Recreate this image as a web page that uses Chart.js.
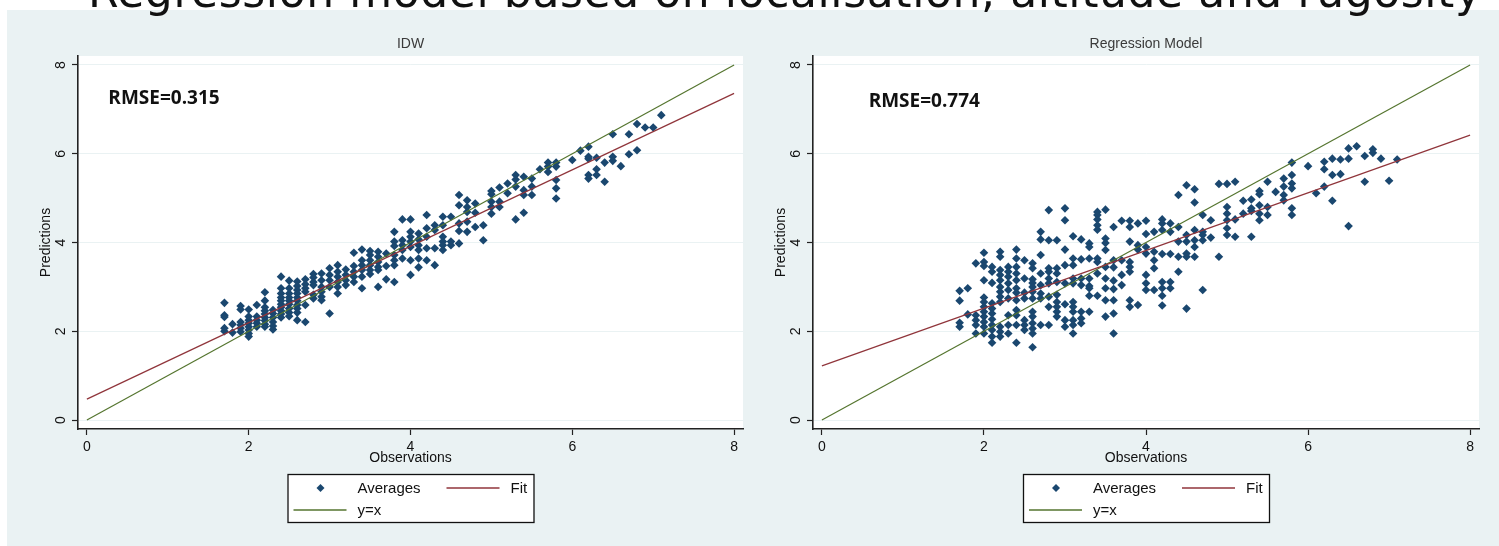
<!DOCTYPE html>
<html><head><meta charset="utf-8">
<script src="https://cdn.jsdelivr.net/npm/chart.js@4.4.1/dist/chart.umd.min.js"></script>
<style>
html,body{margin:0;padding:0;background:#fff;width:1499px;height:546px;overflow:hidden;position:relative;}
#bg{position:absolute;left:7px;top:10px;right:0;bottom:0;background:#eaf2f3;}
#headline{position:absolute;left:88px;top:-31px;font-family:"DejaVu Sans";font-size:44px;line-height:45px;letter-spacing:0.6px;white-space:nowrap;color:#111;z-index:5;}
canvas{position:absolute;top:0;}
#c1{left:0;}
#c2{left:735px;}
</style></head><body>
<div id="bg"></div>
<div id="headline">Regression model based on localisation, altitude and rugosity</div>
<canvas id="c1" width="749" height="546"></canvas>
<canvas id="c2" width="764" height="546"></canvas>
<script>
// ---- tick labels ----
const tickValues = [0, 2, 4, 6, 8];

// ---- IDW panel: observation columns and predictions in each column ----
const idwObs = [1.7,1.8,1.9,2.0,2.1,2.2,2.3,2.4,2.5,2.6,2.7,2.8,2.9,3.0,3.1,3.2,3.3,3.4,3.5,3.6,3.7,3.8,3.9,4.0,4.1,4.2,4.3,4.4,4.5,4.6,4.7,4.8,4.9,5.0,5.1,5.2,5.3,5.4,5.5,5.6,5.7,5.8,6.0,6.1,6.2,6.3,6.4,6.5,6.6,6.7,6.8,6.9,7.0,7.1];
const idwPred = [
  [2.64,2.36,2.32,2.07,2.00],
  [2.16,1.97],
  [2.57,2.49,2.21,2.14,2.07,1.99],
  [2.49,2.33,2.25,2.18,2.10,2.03,1.95,1.88],
  [2.59,2.33,2.25,2.18,2.10],
  [2.88,2.69,2.54,2.46,2.39,2.31,2.24,2.16,2.10],
  [2.48,2.40,2.31,2.21,2.12,2.04],
  [3.23,2.97,2.85,2.76,2.69,2.61,2.54,2.46,2.39,2.31],
  [3.14,2.97,2.85,2.76,2.69,2.61,2.51,2.42,2.34],
  [3.12,3.02,2.93,2.85,2.76,2.69,2.59,2.51,2.42,2.25],
  [3.17,3.06,2.97,2.89,2.59,2.21],
  [3.29,3.21,3.11,3.04,2.82,2.74],
  [3.30,3.15,3.00,2.89,2.78,2.70],
  [3.42,3.27,3.15,3.00,2.40],
  [3.49,3.34,3.23,3.11,3.00,2.85],
  [3.39,3.27,3.15,3.04],
  [3.77,3.47,3.34,3.23,3.11],
  [3.84,3.60,3.49,3.38,3.23,2.97],
  [3.81,3.72,3.60,3.49,3.38,3.29],
  [3.79,3.68,3.56,3.45,3.38,3.00],
  [3.75,3.47,3.17],
  [4.24,4.02,3.92,3.72,3.60,3.49,3.11],
  [4.52,4.05,3.94,3.83,3.64],
  [4.52,4.24,4.13,4.02,3.90,3.60,3.27],
  [4.20,4.07,3.94,3.83,3.64,3.44],
  [4.62,4.32,4.13,3.87,3.60],
  [4.39,4.28,3.87,3.49],
  [4.58,4.39,4.13,4.02,3.94,3.83],
  [4.58,4.02,3.94],
  [5.07,4.84,4.43,4.26,3.98],
  [4.95,4.80,4.69,4.47,4.24],
  [4.88,4.67,4.35],
  [4.39,4.05],
  [5.16,5.09,4.92,4.80,4.65],
  [5.24,4.92,4.80],
  [5.33,5.11],
  [5.52,5.42,5.26,4.52],
  [5.48,5.18,5.07,4.67],
  [5.44,5.26,5.07],
  [5.65],
  [5.80,5.71,5.59],
  [5.80,5.71,5.41,5.22,4.99],
  [5.86],
  [6.07],
  [6.16,5.93,5.89,5.52,5.44],
  [5.91,5.65,5.52],
  [5.80,5.37],
  [6.44,5.93,5.84],
  [5.72],
  [6.44,5.99],
  [6.67,6.08],
  [6.59],
  [6.59],
  [6.87]
];

// ---- Regression Model panel ----
const regObs = [1.7,1.8,1.9,2.0,2.1,2.2,2.3,2.4,2.5,2.6,2.7,2.8,2.9,3.0,3.1,3.2,3.3,3.4,3.5,3.6,3.7,3.8,3.9,4.0,4.1,4.2,4.3,4.4,4.5,4.6,4.7,4.8,4.9,5.0,5.1,5.2,5.3,5.4,5.5,5.6,5.7,5.8,6.0,6.1,6.2,6.3,6.4,6.5,6.6,6.7,6.8,6.9,7.0,7.1];
const regPred = [
  [2.91,2.69,2.19,2.10],
  [2.97,2.38],
  [3.53,2.36,2.25,2.14,1.95],
  [3.77,3.56,3.47,3.15,2.76,2.66,2.55,2.44,2.33,2.21,2.10,1.95],
  [3.45,3.34,3.09,2.63,2.51,2.40,2.27,2.14,2.03,1.88,1.74],
  [3.79,3.68,3.38,3.27,3.15,3.00,2.89,2.78,2.66,2.10,1.99,1.88],
  [3.45,3.34,3.23,3.08,2.93,2.74,2.36,2.14,1.95],
  [3.84,3.64,3.45,3.30,3.15,2.97,2.87,2.70,2.48,2.36,2.14,1.74],
  [3.60,3.19,2.87,2.74,2.25,2.14,2.03],
  [3.53,3.42,3.17,3.09,3.00,2.89,2.74,2.44,2.33,2.18,2.06,1.95,1.64],
  [4.24,4.07,3.72,3.30,3.04,2.85,2.74,2.14],
  [4.73,4.05,3.42,3.34,3.19,3.08,2.78,2.55,2.14],
  [4.05,3.42,3.30,3.11,2.82,2.66,2.55,2.44,2.33],
  [4.77,4.50,3.84,3.49,3.08,2.61,2.25,2.10],
  [4.14,3.64,3.49,3.19,3.08,2.66,2.55,2.44,2.25,2.14,1.95],
  [4.07,3.62,3.19,3.04,2.44,2.29,2.18],
  [3.98,3.90,3.64,3.19,3.02,2.97,2.80,2.44],
  [4.69,4.62,4.52,4.39,4.29,3.64,3.56,3.30,2.80],
  [4.74,4.09,3.99,3.83,3.45,3.19,2.97,2.70,2.33],
  [4.35,3.60,3.44,3.14,2.95,2.70,2.40,1.95],
  [4.49,3.60,3.27,3.04],
  [4.49,4.35,4.02,3.56,3.45,3.34,2.70,2.55],
  [4.43,3.94,3.84,2.59],
  [4.49,4.19,3.90,3.75,3.27,3.08,2.93],
  [4.24,3.79,3.60,3.42,2.93],
  [4.52,4.43,4.28,3.74,3.11,2.97,2.80,2.58],
  [4.43,4.24,3.74,3.11,2.97],
  [5.07,4.35,4.02,3.68,3.34],
  [5.29,4.17,4.02,3.75,3.68,2.51],
  [5.20,4.90,4.28,4.05,3.90,3.68],
  [4.62,4.24,4.17,4.05,2.93],
  [4.50,4.11],
  [5.32,3.68],
  [5.32,4.80,4.65,4.50,4.32,4.17],
  [5.37,4.52,4.13],
  [4.94,4.65],
  [4.97,4.77,4.71,4.13],
  [5.16,5.09,4.84,4.65,4.50],
  [5.37,4.80,4.62],
  [5.14],
  [5.44,5.26,5.07,4.95],
  [5.80,5.52,5.33,5.22,4.77,4.62],
  [5.72],
  [5.11],
  [5.82,5.65,5.26],
  [5.89,5.52,4.94],
  [5.87,5.54],
  [6.12,5.89,4.37],
  [6.17],
  [5.95,5.37],
  [6.10,6.02],
  [5.89],
  [5.39],
  [5.87]
];

// ---- reference lines (end points) ----
const lineX = [0, 8];
const idwFitY = [0.47, 7.36];
const regFitY = [1.22, 6.42];
const identityY = [0, 8];

// ---- annotations ----
const idwRmse = 'RMSE=0.315';
const regRmse = 'RMSE=0.774';

const NAVY = '#1a476f', MAROON = '#90353b', GREEN = '#55752f', BG = '#eaf2f3';
const FONT = '"Liberation Sans", Arial, sans-serif';

function pts(obs, pred) {
  const out = [];
  obs.forEach((x, i) => pred[i].forEach(y => out.push({x, y})));
  return out;
}
function seg(xs, ys) { return xs.map((x, i) => ({x, y: ys[i]})); }

const decor = {
  id: 'decor',
  beforeDraw(chart, args, o) {
    const {ctx, chartArea: a} = chart;
    ctx.save();
    ctx.fillStyle = '#fff';
    ctx.fillRect(a.left, a.top, a.right - a.left, a.bottom - a.top);
    ctx.restore();
  },
  afterDraw(chart, args, o) {
    const {ctx, chartArea: a, scales: {x, y}} = chart;
    const cx = (a.left + a.right) / 2;
    ctx.save();
    // panel title
    ctx.font = '14px ' + FONT; ctx.fillStyle = '#3a3a3a';
    ctx.textAlign = 'center'; ctx.textBaseline = 'middle';
    ctx.fillText(o.title, cx, a.top - 12);
    // rotated y tick labels
    ctx.fillStyle = '#111';
    y.ticks.forEach(t => {
      ctx.save();
      ctx.translate(a.left - 17.5, y.getPixelForValue(t.value));
      ctx.rotate(-Math.PI / 2);
      ctx.fillText(String(t.value), 0, 1);
      ctx.restore();
    });
    // RMSE annotation
    ctx.font = 'bold 19px "Open Sans", sans-serif'; ctx.fillStyle = '#111';
    ctx.textAlign = 'left';
    ctx.fillText(o.rmse, x.getPixelForValue(o.rmsePos[0]), y.getPixelForValue(o.rmsePos[1]));
    // legend box
    const L = cx - 123, T = a.bottom + 45, W = 246, H = 48;
    ctx.fillStyle = '#fff'; ctx.fillRect(L, T, W, H);
    ctx.strokeStyle = '#111'; ctx.lineWidth = 1.3; ctx.strokeRect(L + 0.5, T + 0.5, W, H);
    const r1 = T + 14, r2 = T + 36;
    ctx.fillStyle = NAVY;
    ctx.beginPath();
    ctx.moveTo(L + 33, r1 - 4); ctx.lineTo(L + 37, r1); ctx.lineTo(L + 33, r1 + 4); ctx.lineTo(L + 29, r1);
    ctx.closePath(); ctx.fill();
    ctx.lineWidth = 1.3;
    ctx.strokeStyle = MAROON; ctx.beginPath(); ctx.moveTo(L + 159, r1); ctx.lineTo(L + 212, r1); ctx.stroke();
    ctx.strokeStyle = GREEN; ctx.beginPath(); ctx.moveTo(L + 6, r2); ctx.lineTo(L + 59, r2); ctx.stroke();
    ctx.font = '15px ' + FONT; ctx.fillStyle = '#111'; ctx.textAlign = 'left';
    ctx.fillText('Averages', L + 70, r1 + 1);
    ctx.fillText('Fit', L + 223, r1 + 1);
    ctx.fillText('y=x', L + 70, r2 + 1);
    ctx.restore();
  }
};

function makePanel(canvas, obs, pred, fitY, title, rmse, rmsePos, padRight) {
  return new Chart(canvas, {
    type: 'scatter',
    data: {
      datasets: [
        {label: 'Fit', data: seg(lineX, fitY), showLine: true, pointRadius: 0, borderColor: MAROON, borderWidth: 1.2, order: 0},
        {label: 'y=x', data: seg(lineX, identityY), showLine: true, pointRadius: 0, borderColor: GREEN, borderWidth: 1.2, order: 0},
        {label: 'Averages', data: pts(obs, pred), pointStyle: 'rectRot', pointRadius: 4.3, backgroundColor: NAVY, borderWidth: 0, order: 1}
      ]
    },
    options: {
      responsive: false, animation: false, devicePixelRatio: 1,
      layout: {padding: {top: 56, right: padRight, left: 0, bottom: 0}},
      plugins: {legend: {display: false}, tooltip: {enabled: false}, decor: {title, rmse, rmsePos}},
      scales: {
        x: {
          type: 'linear', min: -0.11, max: 8.11,
          afterBuildTicks: s => { s.ticks = tickValues.map(v => ({value: v})); },
          afterFit: s => { s.height = 117; },
          grid: {drawOnChartArea: false, drawTicks: true, tickLength: 6, tickColor: '#222', tickWidth: 1.2},
          border: {display: true, color: '#222', width: 1.6},
          ticks: {color: '#111', font: {family: FONT, size: 14}, padding: 4, maxRotation: 0, autoSkip: false, callback: v => String(v)},
          title: {display: true, text: 'Observations', color: '#111', font: {family: FONT, size: 14}, padding: {top: 0, bottom: 79}}
        },
        y: {
          type: 'linear', min: -0.2028, max: 8.2028,
          afterBuildTicks: s => { s.ticks = tickValues.map(v => ({value: v})); },
          afterFit: s => { s.width = 78; },
          grid: {color: BG, lineWidth: 1, drawTicks: true, tickLength: 6, tickColor: '#222', tickWidth: 1.2},
          border: {display: true, color: '#222', width: 1.6},
          ticks: {display: false},
          title: {display: true, text: 'Predictions', color: '#111', font: {family: FONT, size: 14}, padding: {top: 38, bottom: 0}}
        }
      }
    },
    plugins: [decor]
  });
}

makePanel(document.getElementById('c1'), idwObs, idwPred, idwFitY, 'IDW', idwRmse, [0.265, 7.25], 6);
makePanel(document.getElementById('c2'), regObs, regPred, regFitY, 'Regression Model', regRmse, [0.577, 7.17], 20);
</script>
</body></html>
